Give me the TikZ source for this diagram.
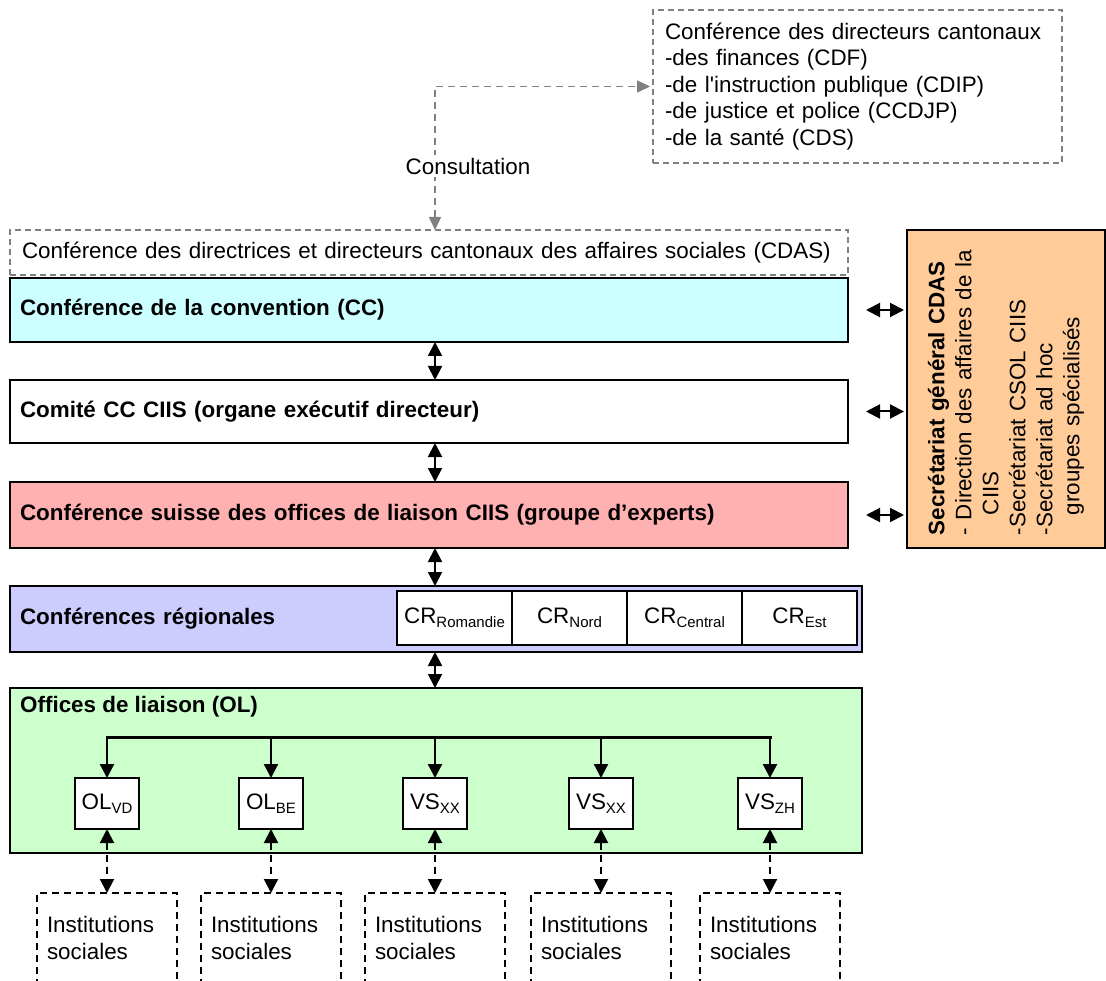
\documentclass[tikz,border=0pt]{standalone}
\usepackage{fontspec}
\setmainfont{Liberation Sans}
\usepackage{tikz}
\usetikzlibrary{positioning}
\usetikzlibrary{arrows.meta}
\definecolor{ccblue}{HTML}{CCFFFF}
\definecolor{csolpink}{HTML}{FFB0B0}
\definecolor{crlilac}{HTML}{CCCCFF}
\definecolor{olgreen}{HTML}{CCFFCC}
\definecolor{secorange}{HTML}{FFCC99}
\definecolor{consgray}{HTML}{808080}
\newcommand{\lowidx}[1]{\raisebox{-0.35ex}{\fontsize{15}{15}\selectfont #1}}

\begin{document}
\begin{tikzpicture}[x=1pt, y=-1pt,
    txt/.style = {font=\fontsize{22.4}{26.5}\selectfont},
    tier/.style = {draw, line width=1.6pt, font=\fontsize{22.4}{26.5}\selectfont\bfseries, anchor=north west,
                   minimum height=64pt, inner xsep=10pt, text width=818pt, align=left, outer sep=0pt},
    ghost/.style = {draw=consgray, dash pattern=on 6pt off 4pt, line width=1.4pt, txt, align=left, outer sep=0pt},
    crbox/.style = {draw, fill=white, line width=1.6pt, txt, anchor=north west, minimum width=115pt,
                    minimum height=54pt, inner sep=0pt, outer sep=0pt},
    olbox/.style = {draw, fill=white, line width=1.6pt, txt, minimum width=64pt, minimum height=51pt,
                    inner sep=0pt, outer sep=0pt},
    inst/.style = {draw, dash pattern=on 7pt off 5pt, line width=1.4pt, txt, anchor=north, minimum width=140pt,
                   minimum height=90pt, text width=120pt, inner xsep=10pt, align=left, outer sep=0pt},
    link/.style = {{Triangle[length=14pt,width=14pt]}-{Triangle[length=14pt,width=14pt]}, line width=2pt},
    linkd/.style = {link, dash pattern=on 7pt off 5pt},
    feed/.style = {-{Triangle[length=14pt,width=14pt]}, line width=2.4pt},
    consult/.style = {{Triangle[length=13pt,width=12pt]}-{Triangle[length=13pt,width=12pt]}, draw=consgray,
                      dash pattern=on 7pt off 5pt, line width=1.6pt}]
    \useasboundingbox (0,0) rectangle (1106,981);
    \clip (0,0) rectangle (1106,981);

    \node[ghost, anchor=north west, minimum width=409pt, minimum height=153pt, text width=385pt, inner xsep=12pt]
        (cdirs) at (653,10) {Conférence des directeurs cantonaux\\-des finances (CDF)\\-de l\textquotesingle instruction publique (CDIP)\\-de justice et police (CCDJP)\\-de la santé (CDS)};
    \node[ghost, anchor=north west, minimum width=838pt, minimum height=45pt, text width=814pt, inner xsep=12pt]
        (cdas) at (10,230) {Conférence des directrices et directeurs cantonaux des affaires sociales (CDAS)};

    \node[tier, fill=ccblue] (cc) at (10,278) {Conférence de la convention (CC)};
    \node[tier, fill=white, minimum height=63pt] (comite) at (10,380) {Comité CC CIIS (organe exécutif directeur)};
    \node[tier, fill=csolpink, minimum height=66pt] (csol) at (10,482) {Conférence suisse des offices de liaison CIIS (groupe d'experts)};
    \node[tier, fill=crlilac, minimum height=66pt, text width=832pt] (cr) at (10,586) {Conférences régionales};

    \node[crbox] (crrom) at (397,591) {CR\lowidx{Romandie}};
    \node[crbox, right=0pt of crrom] (crnord) {CR\lowidx{Nord}};
    \node[crbox, right=0pt of crnord] (crcen) {CR\lowidx{Central}};
    \node[crbox, right=0pt of crcen] (crest) {CR\lowidx{Est}};

    \node[draw, fill=olgreen, line width=1.6pt, anchor=north west, minimum width=852pt, minimum height=165pt,
          outer sep=0pt] (ol) at (10,688) {};
    \node[txt, font=\fontsize{22.4}{26.5}\selectfont\bfseries, anchor=west, inner sep=0pt] (oltitle) at (20,707) {Offices de liaison (OL)};

    \node[olbox] (olvd) at (107,803.5) {OL\lowidx{VD}};
    \node[olbox] (olbe) at (271,803.5) {OL\lowidx{BE}};
    \node[olbox] (vsa) at (435,803.5) {VS\lowidx{XX}};
    \node[olbox] (vsb) at (601,803.5) {VS\lowidx{XX}};
    \node[olbox] (vszh) at (770,803.5) {VS\lowidx{ZH}};

    \coordinate (instrow) at (0,893);
    \node[inst] (inst1) at (olvd |- instrow) {Institutions\\sociales};
    \node[inst] (inst2) at (olbe |- instrow) {Institutions\\sociales};
    \node[inst] (inst3) at (vsa |- instrow) {Institutions\\sociales};
    \node[inst] (inst4) at (vsb |- instrow) {Institutions\\sociales};
    \node[inst] (inst5) at (vszh |- instrow) {Institutions\\sociales};

    \node[draw, fill=secorange, line width=1.6pt, rotate=90, minimum width=318pt, minimum height=198pt,
          text width=292pt, inner xsep=13pt, align=left, font=\fontsize{22.4}{27}\selectfont, outer sep=0pt]
        (sec) at (1006,389)
        {\textbf{Secrétariat général CDAS}\\- Direction des affaires de la\\\hspace*{20pt}CIIS\\-Secrétariat CSOL CIIS\\-Secrétariat ad hoc\\\hspace*{20pt}groupes spécialisés};

    \coordinate (spine) at (435,0);
    \draw[consult] (cdas.north -| spine) |- ([xshift=-3pt]cdirs.west);
    \node[txt, fill=white, inner sep=3pt] (consultlbl) at (468,166) {Consultation};

    \draw[link] (cc.south -| spine) -- (comite.north -| spine);
    \draw[link] (comite.south -| spine) -- (csol.north -| spine);
    \draw[link] (csol.south -| spine) -- (cr.north -| spine);
    \draw[link] (cr.south -| spine) -- (ol.north -| spine);

    \draw[link] ([xshift=18pt]cc.east) -- ([xshift=-3pt]cc.east -| sec.north);
    \draw[link] ([xshift=18pt]comite.east) -- ([xshift=-3pt]comite.east -| sec.north);
    \draw[link] ([xshift=18pt]csol.east) -- ([xshift=-3pt]csol.east -| sec.north);

    \coordinate (bus) at (0,737);
    \draw[line width=3pt, line cap=rect] (olvd |- bus) -- (vszh |- bus);
    \foreach \n in {olvd,olbe,vsa,vsb,vszh}
        \draw[feed] (\n |- bus) -- (\n.north);

    \draw[linkd] (olvd.south) -- (inst1.north);
    \draw[linkd] (olbe.south) -- (inst2.north);
    \draw[linkd] (vsa.south) -- (inst3.north);
    \draw[linkd] (vsb.south) -- (inst4.north);
    \draw[linkd] (vszh.south) -- (inst5.north);
\end{tikzpicture}
\end{document}
